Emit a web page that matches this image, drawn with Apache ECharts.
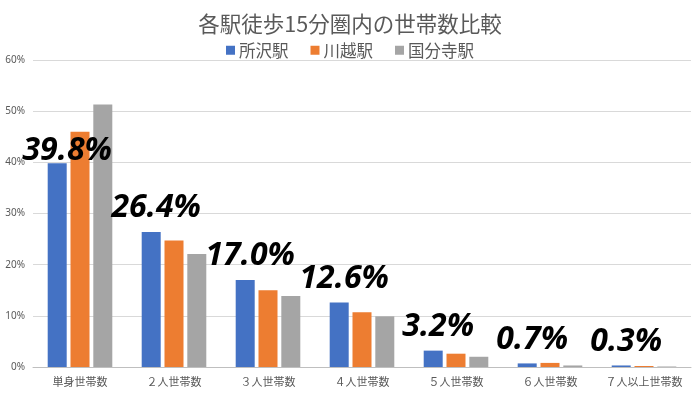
<!DOCTYPE html>
<html><head><meta charset="utf-8">
<script src="https://cdn.jsdelivr.net/npm/echarts@6/dist/echarts.min.js"></script>
<style>html,body{margin:0;padding:0;background:#fff}#c{width:700px;height:393px}</style>
</head><body><div id="c"></div>
<script>
const categories = ['単身世帯数','２人世帯数','３人世帯数','４人世帯数','５人世帯数','６人世帯数','７人以上世帯数'];
const tokorozawa = [39.8, 26.4, 17.0, 12.6, 3.2, 0.7, 0.3];
const kawagoe = [46.0, 24.7, 15.0, 10.7, 2.6, 0.8, 0.2];
const kokubunji = [51.3, 22.1, 13.9, 9.9, 2.0, 0.3, 0.1];
const seriesNames = ['所沢駅','川越駅','国分寺駅'];
const colors = ['#4472C4','#ED7D31','#A5A5A5'];

const chart = echarts.init(document.getElementById('c'));
const txt = '#595959';
const labelStyle = {
  show: true, position: 'top', distance: 8, offset: [5, 0],
  fontFamily: 'Noto Sans', fontWeight: 'bold', fontStyle: 'italic', fontSize: 32, color: '#000',
  formatter: p => p.value.toFixed(1) + '%'
};
const blueData = tokorozawa.map((v, i) => i === 0 ? {value: v, label: {offset: [10, 12]}} : v);
chart.setOption({
  animation: false,
  color: colors,
  title: {text: '各駅徒歩15分圏内の世帯数比較', left: 'center', top: 8,
    textStyle: {fontFamily: 'Noto Sans CJK JP', fontWeight: 'normal', fontSize: 21.5, color: txt}},
  legend: {top: 37, left: 'center', itemWidth: 9, itemHeight: 9, itemGap: 22, icon: 'rect',
    textStyle: {fontFamily: 'Noto Sans CJK JP', fontSize: 16.5, color: txt, padding: [0, 0, 0, -1]}},
  grid: {left: 33, right: 9, top: 60, bottom: 26, containLabel: false},
  xAxis: {type: 'category', data: categories,
    axisLine: {lineStyle: {color: '#BFBFBF'}}, axisTick: {show: false},
    axisLabel: {fontFamily: 'Noto Sans CJK JP', fontSize: 11, color: txt, margin: 9, interval: 0}},
  yAxis: {type: 'value', min: 0, max: 60, interval: 10,
    axisLabel: {formatter: '{value}%', fontFamily: 'Noto Sans', fontSize: 10, color: txt, margin: 8},
    splitLine: {lineStyle: {color: '#D9D9D9'}}, axisLine: {show: false}, axisTick: {show: false}},
  series: [
    {name: seriesNames[0], type: 'bar', data: blueData, barWidth: 19, barGap: '20%', label: labelStyle, z: 3},
    {name: seriesNames[1], type: 'bar', data: kawagoe, barWidth: 19, barGap: '20%'},
    {name: seriesNames[2], type: 'bar', data: kokubunji, barWidth: 19, barGap: '20%'}
  ]
});
</script></body></html>
